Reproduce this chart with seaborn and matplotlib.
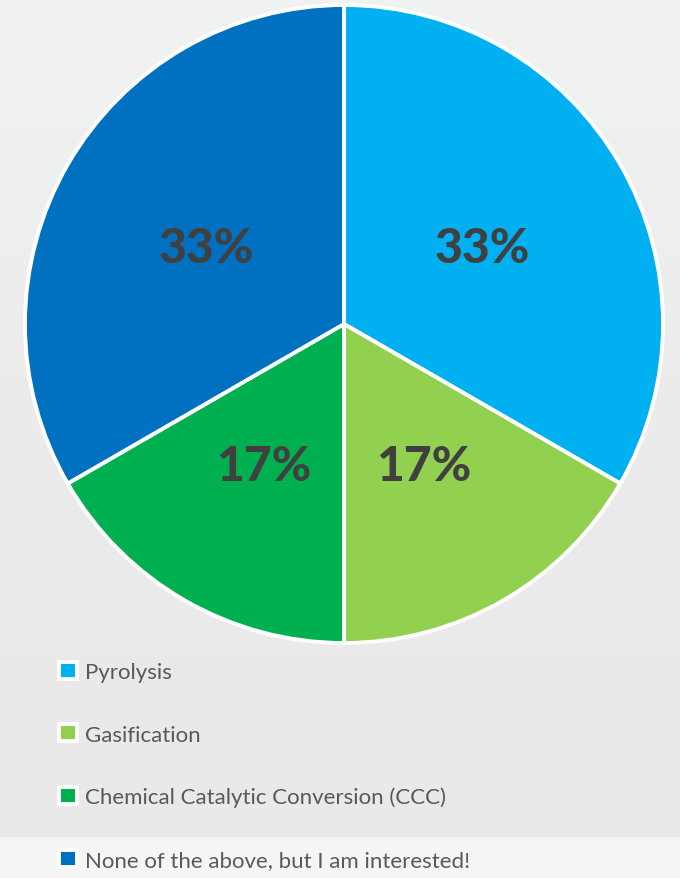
import matplotlib
matplotlib.use("Agg")
import matplotlib.pyplot as plt
import seaborn as sns
import numpy as np
from matplotlib.patches import Rectangle
from matplotlib.colors import LinearSegmentedColormap

categories = ["Pyrolysis", "Gasification", "Chemical Catalytic Conversion (CCC)",
              "None of the above, but I am interested!"]
values = [2, 1, 1, 2]
colors = ["#00B0F0", "#92D050", "#00B050", "#0070C0"]

sns.set_theme(style="white")
plt.rcParams['font.family'] = ['Lato', 'DejaVu Sans']

fig = plt.figure(figsize=(6.8, 8.79), dpi=100)
fig.patch.set_facecolor("#ebebeb")

# background: subtle vertical gradient + lighter bottom band
bg = fig.add_axes([0, 0, 1, 1], zorder=-10)
grad = np.linspace(0, 1, 256).reshape(-1, 1)
cmap = LinearSegmentedColormap.from_list("bg", ["#f1f2f2", "#ebebeb", "#e9e9e9"])
bg.imshow(grad, aspect="auto", cmap=cmap, extent=[0, 1, 0, 1], origin="upper")
bg.add_patch(Rectangle((0, 0), 1, 41/879, facecolor="#f5f5f5", edgecolor="none"))
bg.set_xlim(0, 1)
bg.set_ylim(0, 1)
bg.axis("off")

ax = fig.add_axes([25/680, 235/879, 638/680, 638/879])
ax.set_facecolor("none")
palette = sns.color_palette(colors)
wedges, texts, autotexts = ax.pie(
    values, colors=palette, startangle=90, counterclock=False,
    autopct=lambda p: f"{p:.0f}%", pctdistance=0.5,
    wedgeprops=dict(edgecolor="white", linewidth=2.8, clip_on=False),
    textprops=dict(color="#404040", fontsize=34.5, fontweight="black"))
for t in autotexts:
    x, y = t.get_position()
    t.set_position((x, y - 0.012))
ax.set_xlim(-1, 1)
ax.set_ylim(-1, 1)
ax.set_aspect("equal")

leg = fig.legend(wedges, categories, loc="upper left",
                 bbox_to_anchor=(39/680, 1 - 643/879), frameon=False,
                 fontsize=16, labelcolor="#595959", handlelength=0.8,
                 handleheight=0.8, handletextpad=0.35, labelspacing=1.9)

fig.savefig("out.png", dpi=100, facecolor=fig.get_facecolor())
